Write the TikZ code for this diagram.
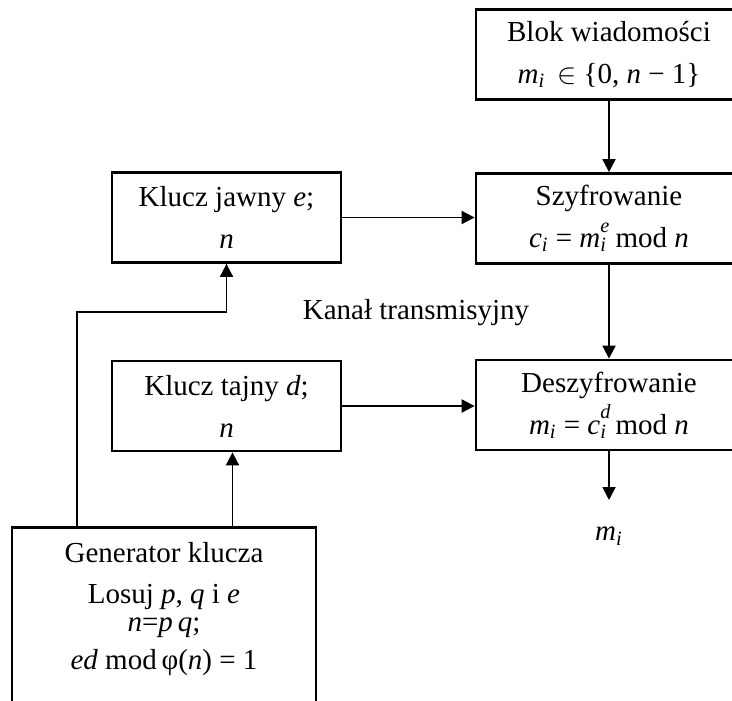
\documentclass[tikz,border=0pt]{standalone}
\usepackage{fontspec}
\setmainfont{Liberation Serif}
\usetikzlibrary{arrows.meta}

\newcommand{\zm}[1]{\textit{#1}}
\newcommand{\dol}[2]{\zm{#1}\textsubscript{\zm{#2}}}
\newcommand{\dolgora}[3]{\zm{#1}\rlap{\raisebox{0.35ex}{\textsuperscript{\zm{#3}}}}\textsubscript{\zm{#2}}\hspace{0.3em}}

\tikzset{
    blok/.style={draw, line width=1.4pt, align=center, inner sep=0pt,
        minimum width=133pt, minimum height=45pt},
    klucz/.style={blok, minimum width=114.5pt},
    strz/.style={line width=0.95pt, -{Triangle[length=6.5pt, width=6.5pt]}},
    linia/.style={line width=0.65pt},
}

\begin{document}
\begin{tikzpicture}[x=0.5pt, y=-0.5pt, font=\fontsize{14.5}{21}\selectfont]
    \useasboundingbox (0, 0) rectangle (732, 700);
    \clip (0, 0) rectangle (732, 700);
    \node[blok] (wiad) at (609, 54.5) {Blok wiadomości\\\dol{m}{i}\, $\in$ \{0, \zm{n} − 1\}};
    \node[blok] (szyfr) at (609, 218.5) {Szyfrowanie\\\dol{c}{i} = \dolgora{m}{i}{e}mod \zm{n}};
    \node[blok] (deszyfr) at (609, 405) {Deszyfrowanie\\\dol{m}{i} = \dolgora{c}{i}{d}mod \zm{n}};
    \node[klucz] (jawny) at (226.5, 217.5) {Klucz jawny \zm{e};\\\zm{n}};
    \node[klucz] (tajny) at (226.5, 406) {Klucz tajny \zm{d};\\\zm{n}};
    \node[blok, minimum width=152pt, minimum height=100pt, anchor=north] (gen) at (164, 526) {};
    \node (gen1) at (164, 553) {Generator klucza};
    \node (gen2) at (164, 597) {Losuj \zm{p}, \zm{q} i \zm{e}};
    \node (gen3) at (164, 628) {\zm{n}=\zm{p}\,\zm{q};};
    \node (gen4) at (164, 663) {\zm{ed} mod\,φ(\zm{n}) = 1};
    \node (kanal) at (416, 313) {Kanał transmisyjny};
    \coordinate (wyj) at (609, 500);
    \node (mi) at (609, 536) {\dol{m}{i}};
    \coordinate (rog) at (77, 312);
    \draw[strz] (wiad) -- (szyfr);
    \draw[strz] (szyfr) -- (deszyfr);
    \draw[strz] (deszyfr) -- (wyj);
    \draw[strz] (jawny.east) -- (jawny.east -| szyfr.west);
    \draw[strz] (tajny.east) -- (tajny.east -| deszyfr.west);
    \draw[strz] ([xshift=3pt]gen.north -| tajny.south) -- ([xshift=3pt]tajny.south);
    \draw[linia] (gen.north -| rog) -- (rog) -| (jawny.south);
    \draw[strz] (rog -| jawny.south) -- (jawny.south);
\end{tikzpicture}
\end{document}
